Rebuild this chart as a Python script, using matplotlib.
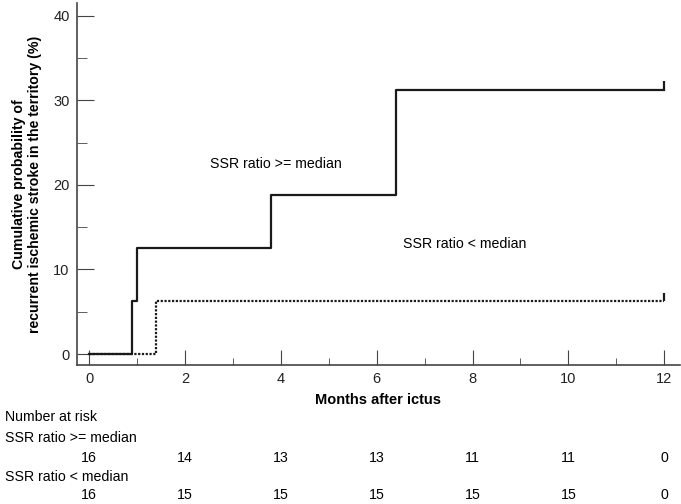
import matplotlib
matplotlib.use('Agg')
import matplotlib.pyplot as plt
from matplotlib.transforms import blended_transform_factory

plt.rcParams['font.family'] = ['Liberation Sans', 'DejaVu Sans']
plt.rcParams['font.size'] = 10

# Kaplan-Meier style cumulative incidence (%)
t_high = [0, 0.9, 1.0, 3.8, 6.4, 12]
p_high = [0, 6.25, 12.5, 18.75, 31.25, 31.25]
t_low = [0, 1.4, 12]
p_low = [0, 6.25, 6.25]
censor_t = [12, 12]
censor_p = [31.25, 6.25]

risk_times = [0, 2, 4, 6, 8, 10, 12]
risk_high = [16, 14, 13, 13, 11, 11, 0]
risk_low = [16, 15, 15, 15, 15, 15, 0]

col = '#1a1a1a'
fig = plt.figure(figsize=(6.81, 5.04), dpi=100)
ax = fig.add_axes([0.1126, 0.2758, 0.886, 0.718])

ax.step(t_low, p_low, where='post', color=col, lw=1.6, ls=(0, (1, 0.7)))
ax.step(t_high, p_high, where='post', color=col, lw=1.6)
ax.vlines(censor_t, censor_p, [p + 1.0 for p in censor_p], color=col, lw=1.6)

ax.set_xlim(-0.26, 12.33)
ax.set_ylim(-1.3, 41.5)
ax.set_xticks(risk_times)
ax.set_xticks(range(1, 12, 2), minor=True)
ax.set_yticks([0, 10, 20, 30, 40])
ax.set_yticks([5, 15, 25, 35], minor=True)
for s in ['top', 'right']:
    ax.spines[s].set_visible(False)
for s in ['left', 'bottom']:
    ax.spines[s].set_color('#444444')
    ax.spines[s].set_linewidth(1.2)
ax.tick_params(axis='x', which='major', direction='in', length=11, color='#444444',
               labelsize=10.5, labelcolor='#222222', pad=5)
ax.tick_params(axis='x', which='minor', direction='in', length=5, color='#444444')
ax.tick_params(axis='y', which='major', direction='in', length=12, color='#444444',
               labelsize=10.5, labelcolor='#222222', pad=5)
ax.tick_params(axis='y', which='minor', direction='in', length=7, color='#444444')

ax.set_xlabel('Months after ictus', fontweight='bold', fontsize=10.5, labelpad=5)
ax.set_ylabel('Cumulative probability of\nrecurrent ischemic stroke in the territory (%)',
              fontweight='bold', fontsize=10.2, labelpad=8)

ax.text(3.89, 22.5, 'SSR ratio >= median', ha='center', va='center', fontsize=10.2)
ax.text(7.84, 13.0, 'SSR ratio < median', ha='center', va='center', fontsize=10.2)

# number at risk table
fig.text(5 / 681, 1 - 417 / 504, 'Number at risk', ha='left', va='center', fontsize=10.2)
fig.text(5 / 681, 1 - 438 / 504, 'SSR ratio >= median', ha='left', va='center', fontsize=10.2)
fig.text(5 / 681, 1 - 477 / 504, 'SSR ratio < median', ha='left', va='center', fontsize=10.2)
tr = blended_transform_factory(ax.transData, fig.transFigure)
for t, n1, n2 in zip(risk_times, risk_high, risk_low):
    ax.text(t, 1 - 458 / 504, str(n1), transform=tr, ha='center', va='center', fontsize=10.2, clip_on=False)
    ax.text(t, 1 - 495 / 504, str(n2), transform=tr, ha='center', va='center', fontsize=10.2, clip_on=False)

fig.savefig('out.png', dpi=100)
